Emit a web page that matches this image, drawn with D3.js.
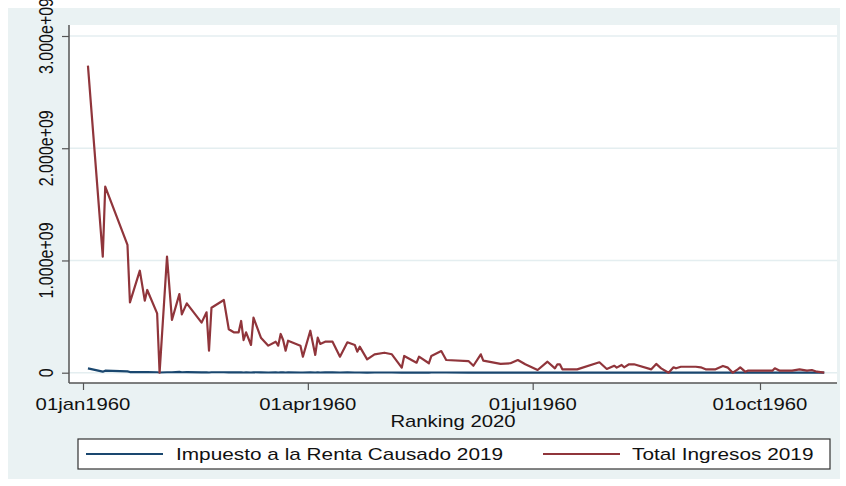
<!DOCTYPE html>
<html>
<head>
<meta charset="utf-8">
<script src="https://cdn.jsdelivr.net/npm/d3@7"></script>
<style>
  html, body { margin: 0; padding: 0; background: #ffffff; }
  svg { display: block; }
  text { font-family: "Liberation Sans", Arial, sans-serif; fill: #111; }
</style>
</head>
<body>
<svg id="chart" width="846" height="486"></svg>
<script>
// ---- data (x = Ranking 2020, shown as Stata %td dates; days since 01jan1960) ----
const ranking = [2,8,9,18,19,23,25,26,30,31,
  34,36,39,40,42,48,50,51,52,57,
  59,61,63,64,65,66,68,69,72,75,
  78,79,80,81,82,83,88,89,92,94,
  95,96,98,101,104,107,110,111,112,115,
  118,122,125,129,130,135,136,140,141,145,
  147,156,158,161,162,169,173,176,179,184,
  188,191,192,193,194,200,209,212,215,216,
  218,219,221,223,230,232,234,237,239,240,
  242,248,250,252,256,259,261,263,265,266,
  268,269,279,280,282,287,290,293,295,297,300];

// Total Ingresos 2019 (in units of 1e9)
const totalIngresos = [2.736,1.034,1.658,1.138,0.627,0.909,0.642,0.737,0.529,0.0,
  1.034,0.47,0.70,0.52,0.618,0.446,0.538,0.196,0.579,0.648,
  0.387,0.36,0.36,0.461,0.291,0.36,0.247,0.49,0.312,0.241,
  0.276,0.241,0.345,0.291,0.196,0.285,0.241,0.143,0.374,0.158,
  0.312,0.256,0.276,0.276,0.143,0.271,0.247,0.187,0.232,0.119,
  0.164,0.178,0.164,0.045,0.149,0.089,0.143,0.084,0.149,0.193,
  0.113,0.104,0.062,0.164,0.107,0.078,0.084,0.113,0.075,0.024,
  0.098,0.039,0.075,0.075,0.03,0.03,0.093,0.033,0.062,0.045,
  0.069,0.048,0.075,0.075,0.03,0.078,0.039,0.0,0.048,0.039,
  0.053,0.053,0.048,0.03,0.03,0.06,0.045,0.0,0.03,0.048,
  0.009,0.018,0.018,0.039,0.018,0.018,0.03,0.018,0.024,0.009,0.0];

// Impuesto a la Renta Causado 2019 (in units of 1e9)
const impuestoRenta = [0.039,0.009,0.018,0.012,0.006,0.006,0.005,0.005,0.004,0.002,
  0.004,0.004,0.008,0.004,0.005,0.003,0.004,0.002,0.004,0.004,
  0.003,0.003,0.003,0.004,0.002,0.003,0.002,0.004,0.003,0.002,
  0.003,0.002,0.003,0.003,0.002,0.003,0.002,0.002,0.004,0.002,
  0.003,0.002,0.003,0.003,0.002,0.003,0.002,0.002,0.002,0.001,
  0.002,0.002,0.002,0.001,0.002,0.001,0.002,0.001,0.002,0.002,
  0.002,0.001,0.001,0.002,0.001,0.001,0.001,0.002,0.001,0.001,
  0.001,0.001,0.001,0.001,0.001,0.001,0.001,0.001,0.001,0.001,
  0.001,0.001,0.001,0.001,0.001,0.001,0.001,0.001,0.001,0.001,
  0.001,0.001,0.001,0.001,0.001,0.001,0.001,0.001,0.001,0.001,
  0.001,0.001,0.001,0.001,0.001,0.001,0.001,0.001,0.001,0.001,0.001];

const xTickValues = [0, 91, 182, 274];
const xTickLabels = ["01jan1960", "01apr1960", "01jul1960", "01oct1960"];
const yTickValues = [0, 1e9, 2e9, 3e9];
const yTickLabels = ["0", "1.000e+09", "2.000e+09", "3.000e+09"];
const seriesNames = ["Impuesto a la Renta Causado 2019", "Total Ingresos 2019"];
const seriesColors = ["#1a476f", "#90353b"];
const xTitle = "Ranking 2020";

// ---- drawing ----
const svg = d3.select("#chart");
const SX = 1.27;      // horizontal stretch of the reference's text
const FS = 16;

// graph region
svg.append("rect").attr("x", 8).attr("y", 8).attr("width", 832).attr("height", 471)
  .attr("fill", "#eaf2f3");

const plot = { left: 69, right: 837, top: 25, bottom: 383 };
svg.append("rect").attr("x", plot.left).attr("y", plot.top)
  .attr("width", plot.right - plot.left).attr("height", plot.bottom - plot.top)
  .attr("fill", "#ffffff");

const x = d3.scaleLinear().domain([0, 274]).range([83, 760]);
const y = d3.scaleLinear().domain([0, 3e9]).range([372.7, 36]);

// gridlines
svg.append("g").selectAll("line").data(yTickValues).join("line")
  .attr("x1", plot.left).attr("x2", plot.right)
  .attr("y1", d => y(d)).attr("y2", d => y(d))
  .attr("stroke", "#e4eef0").attr("stroke-width", 1.5);

// y axis
const yAxis = d3.axisLeft(y).tickValues(yTickValues).tickSize(7).tickFormat("");
const gy = svg.append("g").attr("transform", `translate(${plot.left},0)`).call(yAxis);
gy.select(".domain").remove();
gy.selectAll(".tick line").attr("stroke", "#555").attr("stroke-width", 1.2);
svg.append("line").attr("x1", plot.left).attr("x2", plot.left)
  .attr("y1", plot.top).attr("y2", plot.bottom).attr("stroke", "#555").attr("stroke-width", 1.5);
svg.append("g").selectAll("g").data(yTickValues).join("g")
  .attr("transform", d => `translate(52.5,${y(d)}) scale(${SX},1) rotate(-90)`)
  .append("text")
  .attr("text-anchor", "middle").attr("font-size", FS)
  .text((d, i) => yTickLabels[i]);

// x axis
const xAxis = d3.axisBottom(x).tickValues(xTickValues).tickSize(7).tickFormat("");
const gx = svg.append("g").attr("transform", `translate(0,${plot.bottom})`).call(xAxis);
gx.select(".domain").remove();
gx.selectAll(".tick line").attr("stroke", "#555").attr("stroke-width", 1.2);
svg.append("line").attr("x1", plot.left).attr("x2", plot.right)
  .attr("y1", plot.bottom).attr("y2", plot.bottom).attr("stroke", "#555").attr("stroke-width", 1.5);
svg.append("g").selectAll("g").data(xTickValues).join("g")
  .attr("transform", d => `translate(${x(d)},410) scale(${SX},1)`)
  .append("text")
  .attr("text-anchor", "middle").attr("font-size", FS)
  .text((d, i) => xTickLabels[i]);

svg.append("g").attr("transform", `translate(453,426.5) scale(${SX},1)`)
  .append("text").attr("text-anchor", "middle").attr("font-size", FS).text(xTitle);

// lines
const series = [impuestoRenta, totalIngresos];
const line = d3.line().x(d => x(d[0])).y(d => y(d[1] * 1e9));
series.forEach((vals, i) => {
  svg.append("path")
    .datum(ranking.map((r, j) => [r, vals[j]]))
    .attr("d", line)
    .attr("fill", "none")
    .attr("stroke", seriesColors[i])
    .attr("stroke-width", 2.2)
    .attr("stroke-linejoin", "round");
});

// legend
svg.append("rect").attr("x", 78).attr("y", 439).attr("width", 752).attr("height", 30)
  .attr("fill", "#ffffff").attr("stroke", "#333").attr("stroke-width", 1.2);
const legendItems = [
  { x1: 86, x2: 163, tx: 176 },
  { x1: 543, x2: 620, tx: 632 }
];
legendItems.forEach((it, i) => {
  svg.append("line").attr("x1", it.x1).attr("x2", it.x2).attr("y1", 454).attr("y2", 454)
    .attr("stroke", seriesColors[i]).attr("stroke-width", 2);
  svg.append("g").attr("transform", `translate(${it.tx},460) scale(1.3,1)`)
    .append("text").attr("font-size", FS).text(seriesNames[i]);
});
</script>
</body>
</html>
